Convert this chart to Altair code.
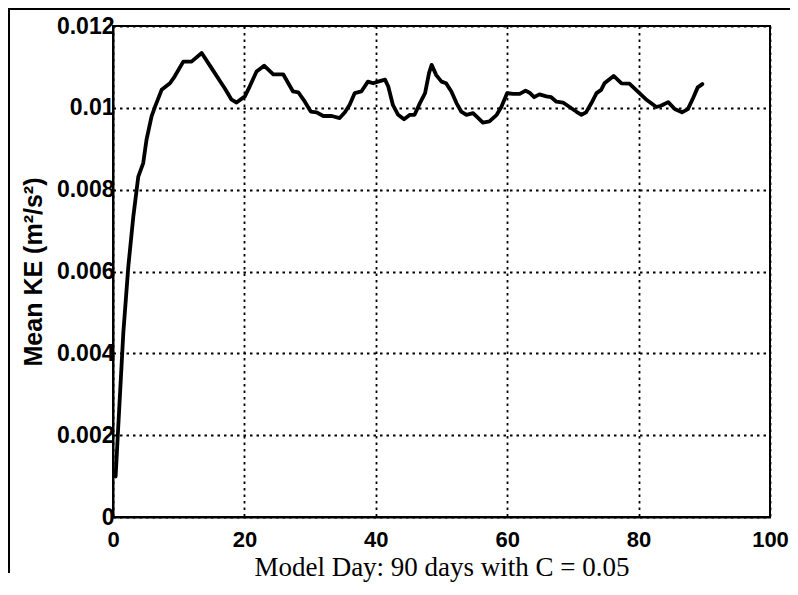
import altair as alt
import pandas as pd

days = [0.4, 0.8, 1.57, 2.33, 3.09, 3.85, 4.6, 5.1, 5.87, 6.4, 7.4, 8.67, 9.4,
        10.7, 11.95, 13.5, 15.0, 16.5, 17.0, 18.05, 18.8, 20.07, 20.8, 21.85,
        23.0, 24.4, 25.9, 27.4, 28.2, 29.2, 30.1, 31.0, 32.0, 33.3, 34.5, 35.3,
        36.0, 36.8, 37.8, 38.8, 39.6, 40.35, 41.4, 41.9, 42.6, 43.4, 44.3, 45.2,
        45.9, 46.7, 47.5, 48.1, 48.5, 49.2, 50.0, 50.7, 51.5, 52.3, 53.0, 53.8,
        54.8, 55.6, 56.3, 57.3, 58.4, 59.1, 60.0, 60.9, 61.9, 62.8, 63.4, 64.1,
        64.9, 65.96, 66.7, 67.5, 68.5, 69.5, 70.5, 71.3, 72.0, 72.8, 73.6, 74.3,
        74.8, 76.2, 77.4, 78.6, 79.6, 81.1, 82.7, 83.4, 84.5, 85.5, 86.6, 87.5,
        88.3, 89.0, 89.7]
ke_milli = [0.99, 2.21, 4.5, 6.12, 7.34, 8.32, 8.65, 9.22, 9.79, 10.03, 10.44,
            10.6, 10.77, 11.13, 11.13, 11.34, 10.97, 10.6, 10.48, 10.2, 10.13,
            10.28, 10.52, 10.89, 11.03, 10.82, 10.82, 10.4, 10.38, 10.15, 9.91,
            9.89, 9.8, 9.8, 9.75, 9.89, 10.07, 10.36, 10.4, 10.64, 10.6, 10.64,
            10.69, 10.52, 10.07, 9.83, 9.72, 9.83, 9.83, 10.11, 10.36, 10.85,
            11.05, 10.8, 10.64, 10.6, 10.4, 10.11, 9.91, 9.83, 9.87, 9.75, 9.64,
            9.67, 9.83, 10.02, 10.36, 10.34, 10.34, 10.42, 10.37, 10.26, 10.33,
            10.28, 10.26, 10.15, 10.13, 10.02, 9.91, 9.83, 9.89, 10.11, 10.36,
            10.44, 10.6, 10.78, 10.6, 10.59, 10.44, 10.21, 10.02, 10.05, 10.14,
            9.97, 9.89, 9.97, 10.24, 10.5, 10.58]

x_ticks = [0, 20, 40, 60, 80, 100]
y_ticks = [0, 0.002, 0.004, 0.006, 0.008, 0.01, 0.012]

df = pd.DataFrame({"day": days, "ke": [v / 1000 for v in ke_milli]})

W, H = 657, 491

line = alt.Chart(df).mark_line(
    color="black", strokeWidth=3.8, strokeJoin="round", strokeCap="round"
).encode(
    x=alt.X("day:Q", scale=alt.Scale(domain=[0, 100], nice=False),
            axis=alt.Axis(values=x_ticks, title="Model Day: 90 days with C = 0.05",
                          titleFont="Liberation Serif", titleFontSize=27,
                          titleFontWeight="normal", titleX=W / 2, titleY=58,
                          titleBaseline="alphabetic",
                          labelFont="Liberation Sans", labelFontSize=22,
                          labelFontWeight="bold", labelPadding=12,
                          labelFlush=False)),
    y=alt.Y("ke:Q", scale=alt.Scale(domain=[0, 0.012], nice=False),
            axis=alt.Axis(values=y_ticks, title="Mean KE (m²/s²)",
                          labelExpr="format(datum.value, '~g')",
                          titleFont="Liberation Sans", titleFontSize=25,
                          titleFontWeight="bold", titleX=-80, titleY=H / 2,
                          titleAngle=270, titleBaseline="middle",
                          labelFont="Liberation Sans", labelFontSize=23,
                          labelFontWeight="bold", labelPadding=-1,
                          labelFlush=False)),
)

top_rule = alt.Chart(df).mark_rule(color="black", strokeWidth=1.5).encode(
    x=alt.value(-105), x2=alt.value(680), y=alt.value(-17)
)
left_rule = alt.Chart(df).mark_rule(color="black", strokeWidth=1.5).encode(
    x=alt.value(-104), y=alt.value(-18), y2=alt.value(547)
)

chart = alt.layer(line, top_rule, left_rule).properties(
    width=W, height=H,
    autosize=alt.AutoSizeParams(type="none"),
    padding={"left": 105, "top": 18, "right": 20, "bottom": 70},
).configure_view(
    stroke="black", strokeWidth=2
).configure_axis(
    grid=True, gridColor="black", gridDash=[2.5, 4], gridWidth=1.8, gridOpacity=1,
    domainColor="black", domainWidth=2, ticks=False, labelColor="black",
    titleColor="black"
)

chart.save("out.html", embed_options={"renderer": "svg", "actions": False})
